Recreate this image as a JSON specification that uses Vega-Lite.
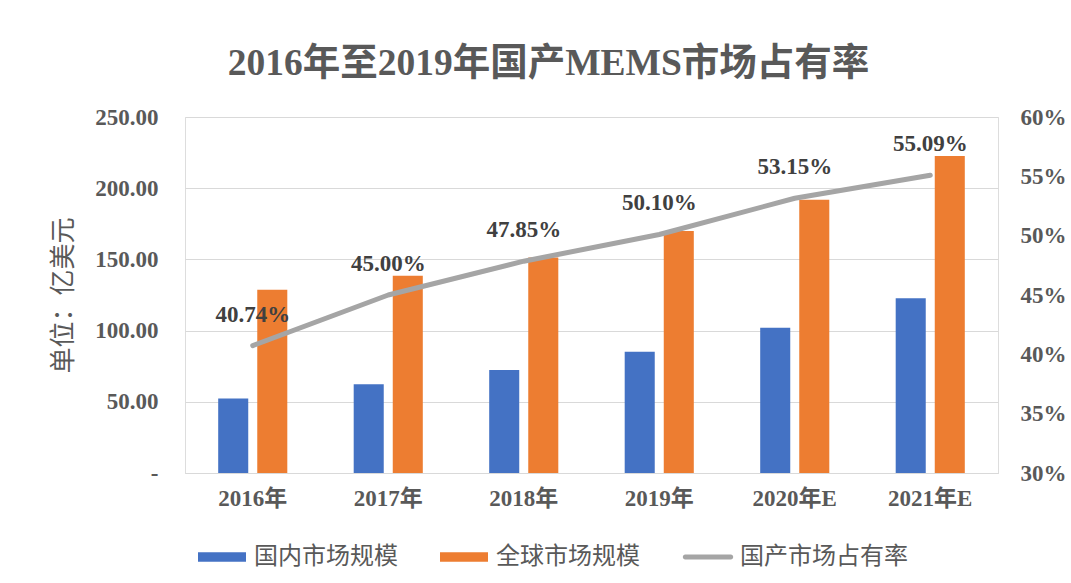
{
  "$schema": "https://vega.github.io/schema/vega-lite/v6.json",
  "width": 813,
  "height": 356,
  "autosize": {"type": "none"},
  "padding": {"left": 185, "top": 117, "right": 73, "bottom": 110},
  "background": "white",
  "title": {
    "text": "2016年至2019年国产MEMS市场占有率",
    "anchor": "middle",
    "frame": "group",
    "dx": -43,
    "offset": 24,
    "font": "Liberation Serif, Noto Sans CJK SC",
    "fontSize": 37.5,
    "fontWeight": "bold",
    "color": "#595959"
  },
  "datasets": {
    "bars": [
      {"year": "2016年", "series": "国内市场规模", "value": 52.4},
      {"year": "2016年", "series": "全球市场规模", "value": 128.6},
      {"year": "2017年", "series": "国内市场规模", "value": 62.3},
      {"year": "2017年", "series": "全球市场规模", "value": 138.5},
      {"year": "2018年", "series": "国内市场规模", "value": 72.4},
      {"year": "2018年", "series": "全球市场规模", "value": 151.3},
      {"year": "2019年", "series": "国内市场规模", "value": 85.1},
      {"year": "2019年", "series": "全球市场规模", "value": 169.9},
      {"year": "2020年E", "series": "国内市场规模", "value": 102.0},
      {"year": "2020年E", "series": "全球市场规模", "value": 191.9},
      {"year": "2021年E", "series": "国内市场规模", "value": 122.7},
      {"year": "2021年E", "series": "全球市场规模", "value": 222.7}
    ],
    "share": [
      {"year": "2016年", "series": "国产市场占有率", "share": 0.4074},
      {"year": "2017年", "series": "国产市场占有率", "share": 0.45},
      {"year": "2018年", "series": "国产市场占有率", "share": 0.4785},
      {"year": "2019年", "series": "国产市场占有率", "share": 0.501},
      {"year": "2020年E", "series": "国产市场占有率", "share": 0.5315},
      {"year": "2021年E", "series": "国产市场占有率", "share": 0.5509}
    ]
  },
  "layer": [
    {
      "data": {"name": "bars"},
      "mark": {"type": "bar"},
      "encoding": {
        "x": {
          "field": "year",
          "type": "nominal",
          "scale": {"paddingInner": 0.49, "paddingOuter": 0.245},
          "axis": {
            "title": null,
            "labelAngle": 0,
            "labelFont": "Liberation Serif, Noto Sans CJK SC",
            "labelFontSize": 23,
            "labelFontWeight": "bold",
            "labelColor": "#595959",
            "labelPadding": 14,
            "ticks": false,
            "domainColor": "#d9d9d9",
            "domainWidth": 1
          }
        },
        "xOffset": {
          "field": "series",
          "type": "nominal",
          "sort": ["国内市场规模", "全球市场规模"],
          "scale": {"paddingInner": 0.2308, "paddingOuter": 0}
        },
        "y": {
          "field": "value",
          "type": "quantitative",
          "scale": {"domain": [0, 250]},
          "axis": {
            "values": [0, 50, 100, 150, 200, 250],
            "labelExpr": "datum.value === 0 ? '-\u00a0\u00a0\u00a0' : format(datum.value, '.2f')",
            "grid": true,
            "gridColor": "#d9d9d9",
            "gridWidth": 1,
            "domain": false,
            "ticks": false,
            "labelPadding": 27,
            "labelFont": "Liberation Serif",
            "labelFontSize": 23,
            "labelFontWeight": "bold",
            "labelColor": "#595959",
            "title": "单位：亿美元",
            "titleFont": "Noto Sans CJK SC",
            "titleFontSize": 26,
            "titleFontWeight": "normal",
            "titleColor": "#595959",
            "titlePadding": 18
          }
        },
        "color": {
          "field": "series",
          "type": "nominal",
          "scale": {
            "domain": ["国内市场规模", "全球市场规模", "国产市场占有率"],
            "range": ["#4472C4", "#ED7D31", "#A5A5A5"]
          },
          "legend": {
            "title": null,
            "orient": "none",
            "direction": "horizontal",
            "legendX": 13,
            "legendY": 416,
            "symbolSize": 2304,
            "symbolStrokeWidth": 0,
            "labelFont": "Noto Sans CJK SC",
            "labelFontSize": 24,
            "labelColor": "#595959",
            "labelOffset": 8,
            "labelLimit": 400,
            "columnPadding": 42,
            "encode": {
              "symbols": {
                "update": {
                  "shape": {"signal": "datum.value === '国产市场占有率' ? 'M-0.95,-0.1H0.95A0.1,0.1 0 0 1 0.95,0.1H-0.95A0.1,0.1 0 0 1 -0.95,-0.1Z' : 'M-1,-0.2H1V0.2H-1Z'"},
                  "fill": {"signal": "scale('color', datum.value)"},
                  "strokeWidth": {"value": 0},
                  "opacity": {"value": 1}
                }
              }
            }
          }
        }
      }
    },
    {
      "data": {"name": "share"},
      "encoding": {
        "x": {"field": "year", "type": "nominal"},
        "y": {
          "field": "share",
          "type": "quantitative",
          "scale": {"domain": [0.3, 0.6]},
          "axis": {
            "orient": "right",
            "values": [0.3, 0.35, 0.4, 0.45, 0.5, 0.55, 0.6],
            "format": ".0%",
            "grid": false,
            "domain": false,
            "ticks": false,
            "labelPadding": 22,
            "labelFont": "Liberation Serif",
            "labelFontSize": 23,
            "labelFontWeight": "bold",
            "labelColor": "#595959",
            "title": null
          }
        }
      },
      "layer": [
        {
          "mark": {"type": "line", "strokeWidth": 5, "strokeCap": "round", "strokeJoin": "round"},
          "encoding": {
            "color": {"field": "series", "type": "nominal"}
          }
        },
        {
          "mark": {
            "type": "text",
            "dy": -31,
            "baseline": "middle",
            "align": "center",
            "font": "Liberation Serif",
            "fontSize": 23,
            "fontWeight": "bold",
            "color": "#404040"
          },
          "encoding": {
            "text": {"field": "share", "type": "quantitative", "format": ".2%"}
          }
        }
      ]
    }
  ],
  "resolve": {"scale": {"y": "independent"}}
}
